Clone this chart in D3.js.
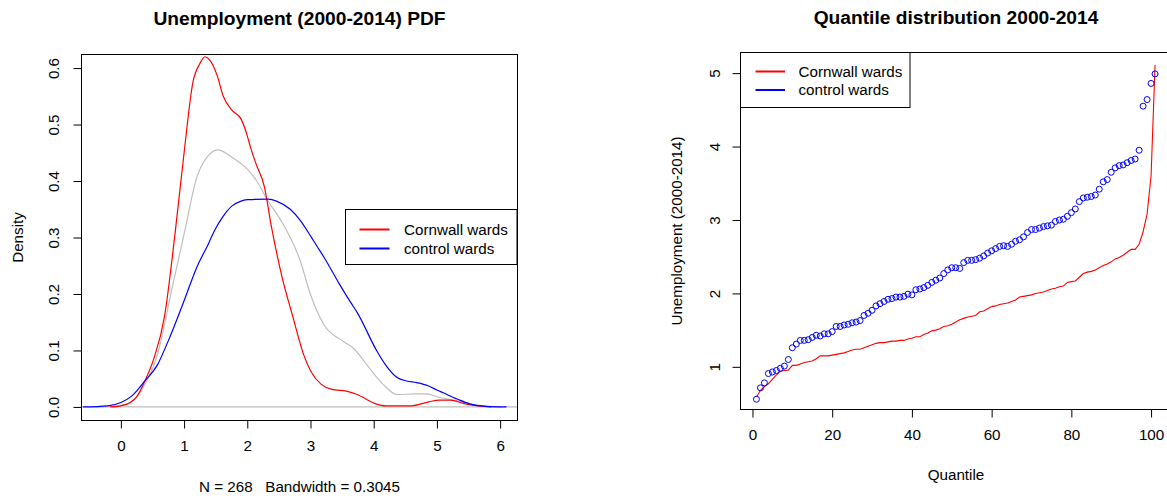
<!DOCTYPE html>
<html><head><meta charset="utf-8">
<script src="https://cdn.jsdelivr.net/npm/d3@7/dist/d3.min.js"></script>
<style>
body{margin:0;background:#fff}
text{font-family:"Liberation Sans",Arial,sans-serif;fill:#000}
</style>
</head><body>
<svg id="c" width="1167" height="498"></svg>
<script>
// ---------- Left panel: density estimates ----------
const allPdfX  = [-0.37,0.0,0.2,0.35,0.58,0.8,1.0,1.2,1.37,1.53,1.76,2.0,2.15,2.3,2.57,2.84,3.0,3.21,3.52,3.68,3.89,4.15,4.37,4.68,4.85,5.0,5.32,5.6,5.88,6.02];
const allPdfY  = [0,0.003,0.012,0.034,0.093,0.205,0.306,0.406,0.443,0.455,0.442,0.421,0.4,0.37,0.323,0.258,0.199,0.146,0.116,0.104,0.075,0.04,0.022,0.023,0.023,0.018,0.011,0.004,0.0005,0];
const cornwallPdfX = [-0.17,0.0,0.15,0.25,0.38,0.52,0.69,0.86,1.0,1.14,1.25,1.33,1.4,1.52,1.62,1.76,1.9,2.0,2.05,2.14,2.27,2.38,2.55,2.72,2.89,3.0,3.17,3.34,3.57,3.74,4.02,4.19,4.59,4.87,5.04,5.21,5.43,5.66,5.86];
const cornwallPdfY = [0,0.002,0.008,0.018,0.046,0.085,0.16,0.31,0.45,0.575,0.608,0.62,0.615,0.588,0.55,0.525,0.51,0.48,0.46,0.43,0.39,0.32,0.23,0.16,0.093,0.064,0.04,0.031,0.028,0.022,0.006,0.002,0.002,0.009,0.012,0.012,0.006,0.002,0];
const controlPdfX = [-0.6,-0.21,0.0,0.18,0.38,0.58,0.75,1.0,1.2,1.39,1.48,1.62,1.76,1.89,2.0,2.33,2.47,2.68,2.84,3.0,3.1,3.23,3.46,3.63,3.74,4.05,4.19,4.37,4.52,4.68,4.87,5.0,5.1,5.32,5.53,5.77,6.1];
const controlPdfY = [0,0.002,0.008,0.02,0.046,0.075,0.117,0.188,0.247,0.29,0.312,0.338,0.356,0.364,0.367,0.368,0.364,0.35,0.33,0.303,0.285,0.262,0.217,0.186,0.167,0.099,0.074,0.052,0.046,0.043,0.037,0.03,0.025,0.014,0.005,0.001,0];
const pdfTicksX = [0,1,2,3,4,5,6];
const pdfTicksY = [0.0,0.1,0.2,0.3,0.4,0.5,0.6];

// ---------- Right panel: quantiles ----------
const quantileIdx = [1,2,3,4,5,6,7,8,9,10,11,12,13,14,15,16,17,18,19,20,21,22,23,24,25,26,27,28,29,30,31,32,33,34,35,36,37,38,39,40,41,42,43,44,45,46,47,48,49,50,51,52,53,54,55,56,57,58,59,60,61,62,63,64,65,66,67,68,69,70,71,72,73,74,75,76,77,78,79,80,81,82,83,84,85,86,87,88,89,90,91,92,93,94,95,96,97,98,99,100,101];
const cornwallQ = [0.59,0.68,0.73,0.77,0.83,0.89,0.94,0.95,0.955,1.02,1.02,1.04,1.06,1.07,1.08,1.11,1.15,1.15,1.15,1.16,1.17,1.18,1.19,1.21,1.23,1.24,1.24,1.26,1.28,1.30,1.32,1.33,1.33,1.34,1.35,1.35,1.36,1.36,1.38,1.39,1.41,1.41,1.44,1.46,1.49,1.50,1.52,1.55,1.56,1.58,1.61,1.64,1.66,1.68,1.69,1.70,1.75,1.76,1.79,1.82,1.83,1.85,1.86,1.87,1.89,1.91,1.95,1.96,1.97,1.98,2.00,2.01,2.02,2.04,2.06,2.07,2.09,2.10,2.15,2.16,2.17,2.22,2.27,2.29,2.30,2.32,2.35,2.38,2.40,2.43,2.47,2.49,2.52,2.56,2.60,2.60,2.67,2.84,3.08,3.60,5.11];
const controlQ = [0.559,0.714,0.782,0.909,0.93,0.95,0.98,1.01,1.10,1.26,1.31,1.36,1.36,1.37,1.40,1.43,1.42,1.45,1.45,1.48,1.55,1.55,1.57,1.58,1.60,1.61,1.63,1.70,1.73,1.77,1.83,1.86,1.89,1.92,1.93,1.95,1.95,1.96,1.99,1.98,2.05,2.06,2.08,2.11,2.15,2.18,2.21,2.27,2.32,2.35,2.35,2.34,2.42,2.45,2.45,2.46,2.48,2.51,2.55,2.58,2.61,2.64,2.65,2.64,2.67,2.71,2.73,2.77,2.83,2.87,2.87,2.89,2.91,2.92,2.93,2.98,3.00,3.01,3.05,3.10,3.15,3.25,3.30,3.31,3.32,3.34,3.42,3.52,3.55,3.65,3.71,3.74,3.75,3.78,3.81,3.83,3.95,4.55,4.64,4.86,4.99];
const qTicksX = [0,20,40,60,80,100];
const qTicksY = [1,2,3,4,5];

const seriesNames = ["Cornwall wards","control wards"];
const seriesColors = ["#ff0000","#0000ff"];

const svg = d3.select("#c");
const FS = 15.2;
const TFS = 19.2;

function rotateYLabels(g, off){
  g.selectAll(".tick text")
    .attr("x",0).attr("y",-off).attr("dy","0.35em")
    .attr("text-anchor","middle")
    .attr("transform","rotate(-90)");
}
function styleAxis(g){
  g.select(".domain").remove();
  g.selectAll(".tick line").attr("stroke","#000").attr("stroke-width",1);
  g.selectAll(".tick text").style("font-size",FS+"px").attr("fill","#000");
}
function legend(x0,y0,w,h,rowY,lineX1,lineX2,textX){
  const g = svg.append("g");
  g.append("rect").attr("x",x0).attr("y",y0).attr("width",w).attr("height",h)
    .attr("fill","#fff").attr("stroke","#000").attr("stroke-width",1);
  seriesNames.forEach((n,i)=>{
    g.append("line").attr("x1",lineX1).attr("x2",lineX2).attr("y1",rowY[i]).attr("y2",rowY[i])
      .attr("stroke",seriesColors[i]).attr("stroke-width",2);
    g.append("text").attr("x",textX).attr("y",rowY[i]).attr("dy","0.35em")
      .style("font-size",FS+"px").text(n);
  });
}

// ===== Left panel =====
{
  const L=81.5, R=517.5, T=54.5, B=420.5;
  const x = d3.scaleLinear().domain([-0.623,6.275]).range([L,R]);
  const y = d3.scaleLinear().domain([-0.024,0.624]).range([B,T]);
  const clipId="clipL";
  svg.append("clipPath").attr("id",clipId).append("rect").attr("x",L).attr("y",T).attr("width",R-L).attr("height",B-T);
  const pg = svg.append("g").attr("clip-path",`url(#${clipId})`);
  pg.append("line").attr("x1",L).attr("x2",R).attr("y1",y(0)).attr("y2",y(0))
    .attr("stroke","#bebebe").attr("stroke-width",1.2);
  const line = d3.line().x(d=>x(d[0])).y(d=>y(d[1])).curve(d3.curveMonotoneX);
  pg.append("path").datum(d3.zip(allPdfX,allPdfY)).attr("d",line)
    .attr("fill","none").attr("stroke","#bebebe").attr("stroke-width",1.2);
  pg.append("path").datum(d3.zip(cornwallPdfX,cornwallPdfY)).attr("d",line)
    .attr("fill","none").attr("stroke",seriesColors[0]).attr("stroke-width",1.2);
  pg.append("path").datum(d3.zip(controlPdfX,controlPdfY)).attr("d",line)
    .attr("fill","none").attr("stroke",seriesColors[1]).attr("stroke-width",1.2);
  svg.append("rect").attr("x",L).attr("y",T).attr("width",R-L).attr("height",B-T)
    .attr("fill","none").attr("stroke","#000").attr("stroke-width",1);
  const gx = svg.append("g").attr("transform",`translate(0,${B})`)
    .call(d3.axisBottom(x).tickValues(pdfTicksX).tickFormat(d3.format("d")).tickSize(8).tickPadding(12));
  styleAxis(gx);
  const gy = svg.append("g").attr("transform",`translate(${L},0)`)
    .call(d3.axisLeft(y).tickValues(pdfTicksY).tickFormat(d3.format(".1f")).tickSize(8));
  styleAxis(gy); rotateYLabels(gy,28);
  svg.append("text").attr("x",(L+R)/2).attr("y",18).attr("dy","0.35em").attr("text-anchor","middle")
    .style("font-size",TFS+"px").style("font-weight","bold").text("Unemployment (2000-2014) PDF");
  svg.append("text").attr("x",(L+R)/2).attr("y",487).attr("dy","0.35em").attr("text-anchor","middle")
    .style("font-size",FS+"px").attr("xml:space","preserve").text("N = 268   Bandwidth = 0.3045");
  svg.append("text").attr("transform",`translate(17.5,${(T+B)/2}) rotate(-90)`).attr("dy","0.35em")
    .attr("text-anchor","middle").style("font-size",FS+"px").text("Density");
  legend(345.5,209.5,171.5,55,[229.5,248.5],359.5,389.5,404);
}

// ===== Right panel =====
{
  const L=740.5, R=1171, T=52.5, B=409.5;
  const x = d3.scaleLinear().domain([-3,105]).range([L,R]);
  const y = d3.scaleLinear().domain([0.419,5.281]).range([B,T]);
  const clipId="clipR";
  svg.append("clipPath").attr("id",clipId).append("rect").attr("x",L).attr("y",T).attr("width",R-L).attr("height",B-T);
  const pg = svg.append("g").attr("clip-path",`url(#${clipId})`);
  const line = d3.line().x(d=>x(d[0])).y(d=>y(d[1]));
  pg.append("path").datum(d3.zip(quantileIdx,cornwallQ)).attr("d",line)
    .attr("fill","none").attr("stroke",seriesColors[0]).attr("stroke-width",1.1);
  pg.selectAll("circle").data(d3.zip(quantileIdx,controlQ)).join("circle")
    .attr("cx",d=>x(d[0])).attr("cy",d=>y(d[1])).attr("r",3)
    .attr("fill","none").attr("stroke",seriesColors[1]).attr("stroke-width",1);
  svg.append("rect").attr("x",L).attr("y",T).attr("width",R-L).attr("height",B-T)
    .attr("fill","none").attr("stroke","#000").attr("stroke-width",1);
  const gx = svg.append("g").attr("transform",`translate(0,${B})`)
    .call(d3.axisBottom(x).tickValues(qTicksX).tickFormat(d3.format("d")).tickSize(8).tickPadding(12));
  styleAxis(gx);
  const gy = svg.append("g").attr("transform",`translate(${L},0)`)
    .call(d3.axisLeft(y).tickValues(qTicksY).tickFormat(d3.format("d")).tickSize(8));
  styleAxis(gy); rotateYLabels(gy,26);
  svg.append("text").attr("x",956).attr("y",17.5).attr("dy","0.35em").attr("text-anchor","middle")
    .style("font-size",TFS+"px").style("font-weight","bold").text("Quantile distribution 2000-2014");
  svg.append("text").attr("x",956).attr("y",475).attr("dy","0.35em").attr("text-anchor","middle")
    .style("font-size",FS+"px").text("Quantile");
  svg.append("text").attr("transform",`translate(677,${(T+B)/2}) rotate(-90)`).attr("dy","0.35em")
    .attr("text-anchor","middle").style("font-size",FS+"px").text("Unemployment (2000-2014)");
  legend(740.5,52.5,169.5,55,[71.5,90],755.5,785,798.5);
}
</script>
</body></html>
